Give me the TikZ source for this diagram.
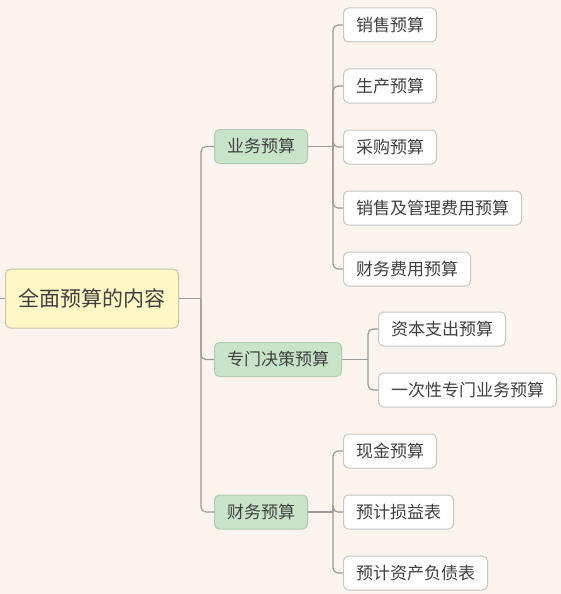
\documentclass[tikz,border=0pt]{standalone}
\usepackage{fontspec}
\setmainfont{Noto Sans CJK SC}
\definecolor{bg}{HTML}{FAF3EE}
\definecolor{txt}{HTML}{404040}
\definecolor{linec}{HTML}{9A9A9A}
\definecolor{rootfill}{HTML}{FFF8C6}
\definecolor{rootdraw}{HTML}{C9C3A8}
\definecolor{midfill}{HTML}{C8E4C8}
\definecolor{middraw}{HTML}{B2CBB2}
\definecolor{leafdraw}{HTML}{C6C6C6}
\tikzset{
  base/.style={rounded corners=5pt, line width=1pt, text=txt, minimum height=34pt, anchor=west, inner ysep=0pt},
  rootbox/.style={base, fill=rootfill, draw=rootdraw, minimum height=59pt, inner xsep=13pt, font=\fontsize{21}{24}\selectfont},
  midbox/.style={base, fill=midfill, draw=middraw, inner xsep=12.5pt, font=\fontsize{17}{20}\selectfont},
  leafbox/.style={base, fill=white, draw=leafdraw, inner xsep=12.5pt, font=\fontsize{17}{20}\selectfont},
  conn/.style={draw=linec, line width=1.2pt, rounded corners=5pt}
}
\begin{document}
\begin{tikzpicture}[x=1pt,y=-1pt]
\fill[bg] (0,0) rectangle (561,594);
\useasboundingbox (0,0) rectangle (561,594);

\node[rootbox] (root) at (5,298.5) {全面预算的内容};
\coordinate (lstub) at (0,298.5);

\node[midbox] (m1) at (214,146.5) {业务预算};
\node[midbox] (m2) at (214,359.5) {专门决策预算};
\node[midbox] (m3) at (214,512) {财务预算};

\node[leafbox] (a1) at (343,25) {销售预算};
\node[leafbox] (a2) at (343,86) {生产预算};
\node[leafbox] (a3) at (343,147) {采购预算};
\node[leafbox] (a4) at (343,208) {销售及管理费用预算};
\node[leafbox] (a5) at (343,269) {财务费用预算};

\node[leafbox] (b1) at (378,329) {资本支出预算};
\node[leafbox] (b2) at (378,390) {一次性专门业务预算};

\node[leafbox] (c1) at (343,451) {现金预算};
\node[leafbox] (c2) at (343,512) {预计损益表};
\node[leafbox] (c3) at (343,573) {预计资产负债表};

\coordinate (t0) at (201,298.5);
\coordinate (t1) at (333,146.5);
\coordinate (t2) at (368,359.5);
\coordinate (t3) at (333,512);

\draw[conn] (lstub) -- (root.west);
\draw[conn] (root.east) -- (t0);
\foreach \m in {m1,m2,m3} \draw[conn] (t0) |- (\m.west);

\draw[conn] (m1.east) -- (t1);
\foreach \n in {a1,a2,a3,a4,a5} \draw[conn] (t1) |- (\n.west);
\draw[conn] (m2.east) -- (t2);
\foreach \n in {b1,b2} \draw[conn] (t2) |- (\n.west);
\draw[conn] (m3.east) -- (t3);
\foreach \n in {c1,c2,c3} \draw[conn] (t3) |- (\n.west);
\end{tikzpicture}
\end{document}
